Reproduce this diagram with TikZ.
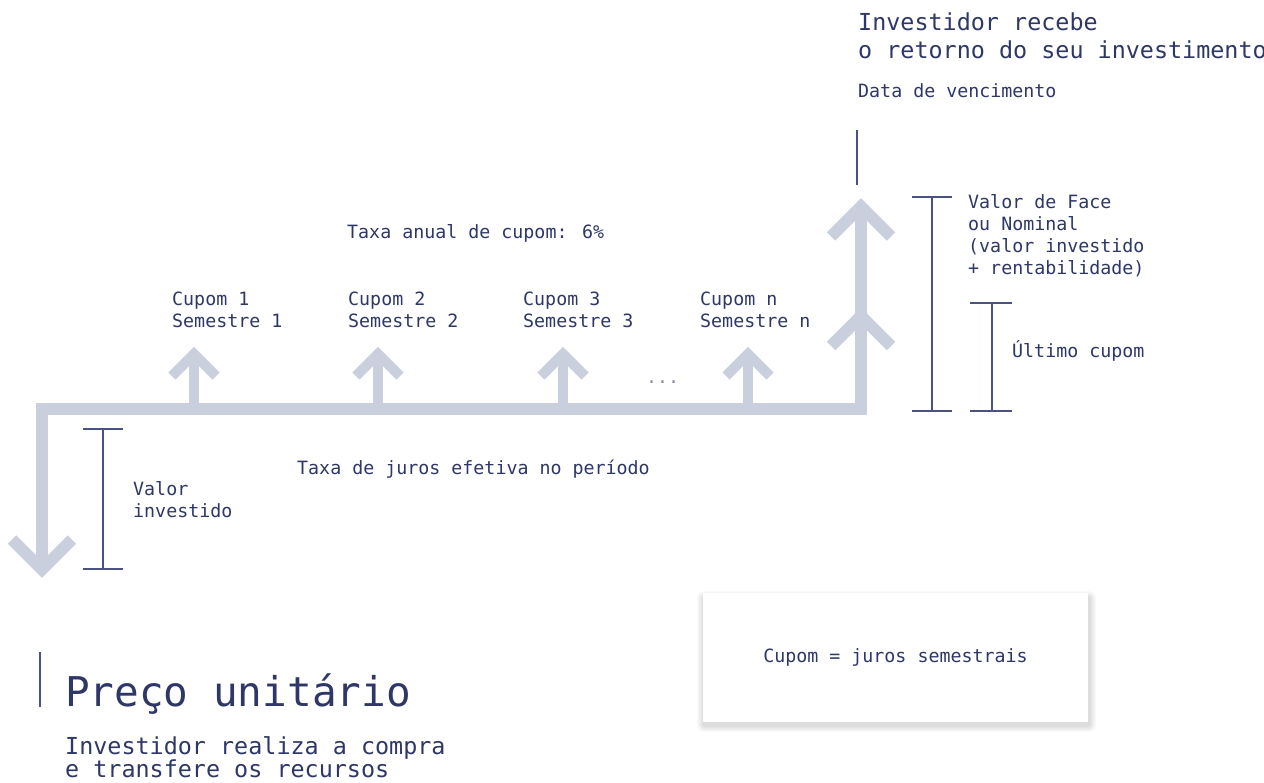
\documentclass[tikz,border=0pt]{standalone}
\usepackage{fontspec}
\setmainfont{DejaVu Sans Mono}
\definecolor{navy}{HTML}{2E3766}
\definecolor{flow}{HTML}{C9CFDD}
\definecolor{tick}{HTML}{4B5283}
\begin{document}
\begin{tikzpicture}[x=1pt,y=-1pt,
  flowline/.style={draw=flow,line width=12pt,line join=miter,miter limit=10},
  cupline/.style={draw=flow,line width=10pt,line join=miter,miter limit=10},
  bracket/.style={draw=tick,line width=1.3pt},
  lbl/.style={anchor=base west,inner sep=0pt,text=navy,font=\fontsize{18.3}{22}\selectfont},
  lblbig/.style={lbl,font=\fontsize{23.4}{28}\selectfont},
  titlelbl/.style={lbl,font=\fontsize{41}{48}\selectfont},
  notebox/.style={fill=white,draw=none,minimum width=385pt,minimum height=129pt,inner sep=0pt,text=navy,font=\fontsize{18.3}{22}\selectfont}]
\clip (0,0) rectangle (1264,782);
\fill[white] (0,0) rectangle (1264,782);

% main flow line
\coordinate (start) at (42,569.5);
\coordinate (cornerL) at (42,409);
\coordinate (cornerR) at (861,409);
\coordinate (bigtop) at (861,206.5);
\draw[flowline] (start) -- (cornerL) -- (cornerR) -- (bigtop);
% down arrow head
\coordinate (dl) at (12,539.5);
\coordinate (dr) at (72,539.5);
\draw[flowline] (dl) -- (start) -- (dr);
% big arrow heads
\coordinate (b1l) at (831,236.5);
\coordinate (b1r) at (891,236.5);
\draw[flowline] (b1l) -- (bigtop) -- (b1r);
\coordinate (b2) at (861,316);
\coordinate (b2l) at (831,346);
\coordinate (b2r) at (891,346);
\draw[flowline] (b2l) -- (b2) -- (b2r);
% coupon arrows
\foreach \n/\x in {a/194,b/378,c/563,d/748}{
  \coordinate (base\n) at (\x,409);
  \coordinate (tip\n) at (\x,354);
  \coordinate (tl\n) at (\x-22,376);
  \coordinate (tr\n) at (\x+22,376);
  \draw[cupline] (base\n) -- (tip\n);
  \draw[cupline] (tl\n) -- (tip\n) -- (tr\n);
}

% brackets
\coordinate (vt) at (857,130); \coordinate (vb) at (857,185);
\draw[bracket] (vt) -- (vb);
\coordinate (vi1) at (103,429); \coordinate (vi2) at (103,569);
\draw[bracket] (83,429) -- (123,429);
\draw[bracket] (vi1) -- (vi2);
\draw[bracket] (83,569) -- (123,569);
\coordinate (vf1) at (932,197); \coordinate (vf2) at (932,411);
\draw[bracket] (912,197) -- (952,197);
\draw[bracket] (vf1) -- (vf2);
\draw[bracket] (912,411) -- (952,411);
\coordinate (uc1) at (992,303); \coordinate (uc2) at (992,411);
\draw[bracket] (970,303) -- (1012,303);
\draw[bracket] (uc1) -- (uc2);
\draw[bracket] (970,411) -- (1012,411);
\coordinate (pu1) at (40,652); \coordinate (pu2) at (40,707);
\draw[bracket] (pu1) -- (pu2);

% texts
\node[lblbig] (t1) at (858,30) {Investidor recebe};
\node[lblbig] (t2) at (858,58) {o retorno do seu investimento};
\node[lbl] (dv) at (858,97) {Data de vencimento};
\node[lbl] (f1) at (968,208) {Valor de Face};
\node[lbl] (f2) at (968,230) {ou Nominal};
\node[lbl] (f3) at (968,252) {(valor investido};
\node[lbl] (f4) at (968,274) {+ rentabilidade)};
\node[lbl] (uc) at (1012,357) {Último cupom};
\node[lbl] (ta) at (347,238) {Taxa anual de cupom: 6\%};
\node[lbl] (c1a) at (172,305) {Cupom 1};
\node[lbl] (c1b) at (172,327) {Semestre 1};
\node[lbl] (c2a) at (348,305) {Cupom 2};
\node[lbl] (c2b) at (348,327) {Semestre 2};
\node[lbl] (c3a) at (523,305) {Cupom 3};
\node[lbl] (c3b) at (523,327) {Semestre 3};
\node[lbl] (cna) at (700,305) {Cupom n};
\node[lbl] (cnb) at (700,327) {Semestre n};
\node[lbl,text=navy!55] (dots) at (646,383) {...};
\node[lbl] (tj) at (297,474) {Taxa de juros efetiva no período};
\node[lbl] (vi) at (133,495) {Valor};
\node[lbl] (vib) at (133,517) {investido};
\node[titlelbl] (pu) at (65,706) {Preço unitário};
\node[lblbig] (r1) at (65,754) {Investidor realiza a compra};
\node[lblbig] (r2) at (65,777) {e transfere os recursos};

% note box with soft shadow
\foreach \i in {1,...,7}{
  \fill[black,opacity=0.018,rounded corners=\i pt] (703-\i+1,593-\i+5) rectangle (1088+\i+1,722+\i+3);
}
\node[notebox] (note) at (895.5,657.5) {Cupom = juros semestrais};
\end{tikzpicture}
\end{document}
